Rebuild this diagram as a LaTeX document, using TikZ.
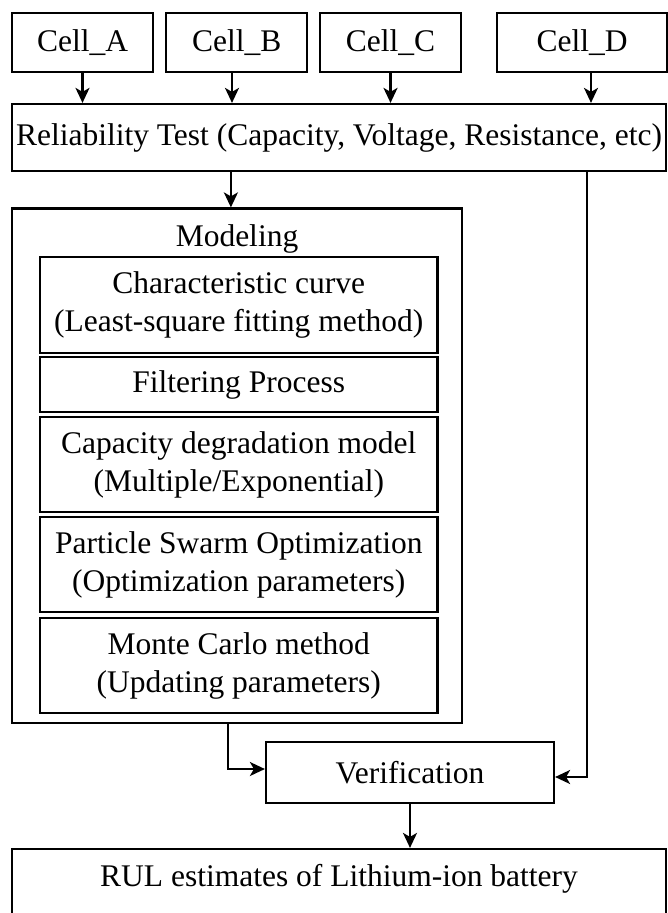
\documentclass[tikz,border=0pt]{standalone}
\usepackage{fontspec}
\setmainfont{Liberation Serif}
\usetikzlibrary{arrows.meta,calc}

\tikzset{
  box/.style={draw, line width=2.2pt, rectangle, inner sep=0pt, align=center,
              font=\fontsize{31.5}{38}\selectfont},
  label/.style={inner sep=0pt, font=\fontsize{31.5}{38}\selectfont},
  arr/.style={line width=2.2pt, -{Stealth[length=15pt,width=14pt,inset=4pt]}}
}

\begin{document}
\begin{tikzpicture}[x=1pt,y=-1pt]
  \useasboundingbox (0,0) rectangle (668,913);
  \clip (0,0) rectangle (668,913);

  % input cells
  \node[box, minimum width=141, minimum height=59] (ca) at (82.5,42.5) {Cell\_A};
  \node[box, minimum width=141, minimum height=59] (cb) at (236.8,42.5) {Cell\_B};
  \node[box, minimum width=141, minimum height=59] (cc) at (390.5,42.5) {Cell\_C};
  \node[box, minimum width=170, minimum height=59] (cd) at (582,42.5) {Cell\_D};

  % reliability test
  \node[box, minimum width=654, minimum height=67] (rel) at (339,137.5)
    {Reliability Test (Capacity, Voltage, Resistance, etc)};

  % modeling block
  \node[box, minimum width=450, minimum height=514.5] (model) at (237,465.75) {};
  \node[label] (mlabel) at (237,239) {Modeling};

  \node[box, minimum width=397.5, minimum height=96] (m1) at (238.75,305)
    {Characteristic curve\\(Least-square fitting method)};
  \node[box, minimum width=397.5, minimum height=55] (m2) at (238.75,384.5)
    {Filtering Process};
  \node[box, minimum width=397.5, minimum height=95] (m3) at (238.75,464.5)
    {Capacity degradation model\\(Multiple/Exponential)};
  \node[box, minimum width=397.5, minimum height=95] (m4) at (238.75,564.5)
    {Particle Swarm Optimization\\(Optimization parameters)};
  \node[box, minimum width=397.5, minimum height=95] (m5) at (238.75,665.5)
    {Monte Carlo method\\(Updating parameters)};

  % verification and result
  \node[box, minimum width=288, minimum height=61] (ver) at (410,772.5) {Verification};
  \node[box, minimum width=654, minimum height=67] (rul) at (339,882.5) {};
  \node[label] (rultext) at (339,879) {RUL estimates of Lithium-ion battery};

  % cells into the test
  \draw[arr] (ca.south) -- (ca.south |- rel.north);
  \draw[arr] ([xshift=-4.8pt]cb.south) -- ([xshift=-4.8pt]cb.south |- rel.north);
  \draw[arr] (cc.south) -- (cc.south |- rel.north);
  \draw[arr] ([xshift=9pt]cd.south) -- ([xshift=9pt]cd.south |- rel.north);

  % test into modeling
  \coordinate (relm) at ($(rel.south west)+(220,0)$);
  \draw[arr] (relm) -- (relm |- model.north);

  % test data straight to verification
  \coordinate (relv) at ($(rel.south west)+(576,0)$);
  \draw[arr] (relv) |- ([yshift=-4.5pt]ver.east);

  % modeling into verification
  \coordinate (modv) at ($(model.south west)+(217,0)$);
  \draw[arr] (modv) |- ([yshift=3.5pt]ver.west);

  % verification into the estimate
  \draw[arr] (ver.south) -- (ver.south |- rul.north);
\end{tikzpicture}
\end{document}
